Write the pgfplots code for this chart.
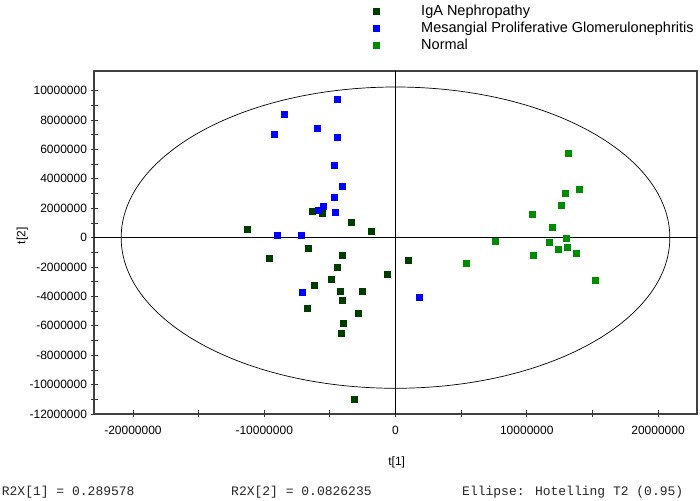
\documentclass[border=0pt]{standalone}
\usepackage{pgfplots}
\pgfplotsset{compat=1.18}
\usepackage{fontspec}
\setmainfont{Liberation Sans}
\newfontfamily\monofont{Liberation Mono}
\usetikzlibrary{calc}
\definecolor{igacol}{RGB}{0,60,0}
\definecolor{mpgncol}{RGB}{0,0,255}
\definecolor{normcol}{RGB}{0,140,0}
\definecolor{framecol}{RGB}{64,64,64}

\begin{document}
\begin{tikzpicture}[x=1bp,y=1bp]
\useasboundingbox (0,0) rectangle (700,501);
\begin{axis}[
  at={(94bp,87bp)}, anchor=south west,
  scale only axis, width=603bp, height=343bp,
  xmin=-22970000, xmax=22970000, ymin=-12000000, ymax=11340000,
  scaled ticks=false,
  xtick={-20000000,-10000000,0,10000000,20000000},
  ytick={-12000000,-10000000,-8000000,-6000000,-4000000,-2000000,0,2000000,4000000,6000000,8000000,10000000},
  minor x tick num=1, minor y tick num=1,
  tick pos=left, tick align=center,
  major tick length=7bp, minor tick length=7bp,
  every tick/.style={black!80, line width=0.8bp},
  axis line style={framecol, line width=1.3bp},
  ticklabel style={font=\fontsize{12bp}{14bp}\selectfont,
    /pgf/number format/fixed, /pgf/number format/1000 sep={},
    /pgf/number format/assume math mode=true},
  xticklabel style={yshift=-5bp},
  xlabel={t[1]}, ylabel={t[2]},
  label style={font=\fontsize{12bp}{14bp}\selectfont},
  xlabel style={at={(axis description cs:0.502,-0.14)}, anchor=center},
  ylabel style={at={(axis description cs:-0.119,0.519)}, anchor=center},
  legend style={at={(axis description cs:0.4627,1.1933)}, anchor=north west,
    draw=none, fill=none, inner sep=0pt, row sep=3.5bp,
    font=\fontsize{14.5bp}{16bp}\selectfont,
    nodes={inner sep=0pt, text height=10.5bp, text depth=3bp},
    /tikz/every odd column/.append style={column sep=42bp}},
  legend cell align=left,
  legend image code/.code={\draw[#1] plot coordinates {(0bp,0bp)};},
]
\draw[black, line width=0.8bp] (axis cs:0,-12000000) -- (axis cs:0,11340000);
\draw[black, line width=0.8bp] (axis cs:-22970000,0) -- (axis cs:22970000,0);
\draw[black, line width=0.7bp] let \p1=(axis cs:0,0), \p2=(axis cs:20900000,10250000) in
  (\p1) ellipse [x radius={\x2-\x1}, y radius={\y2-\y1}];

\addplot[only marks, mark=square*, mark size=3bp, color=igacol] coordinates {
(-11290000,560000) (-6360000,1790000) (-5600000,1650000) (-3340000,1020000)
(-1890000,430000) (-6640000,-750000) (-9660000,-1380000) (-4050000,-1200000)
(-4480000,-1990000) (-4910000,-2840000) (-6210000,-3220000) (-4230000,-3670000)
(-2500000,-3670000) (-4050000,-4290000) (-6720000,-4830000) (-2830000,-5150000)
(-3980000,-5850000) (-4150000,-6530000) (980000,-1520000) (-670000,-2520000)
(-3110000,-11000000)
};
\addlegendentry{IgA Nephropathy}
\addplot[only marks, mark=square*, mark size=3bp, color=mpgncol] coordinates {
(-4480000,9390000) (-8470000,8390000) (-9230000,7010000) (-5980000,7460000)
(-4480000,6820000) (-4660000,4900000) (-4050000,3520000) (-4660000,2740000)
(-5500000,2130000) (-5880000,1900000) (-4590000,1750000) (-9050000,200000)
(-7150000,140000) (-7100000,-3740000) (1810000,-4060000)
};
\addlegendentry{Mesangial Proliferative Glomerulonephritis}
\addplot[only marks, mark=square*, mark size=3bp, color=normcol] coordinates {
(13170000,5760000) (13960000,3290000) (12910000,2990000) (12660000,2220000)
(10400000,1590000) (11950000,730000) (12970000,-20000) (7630000,-270000)
(11700000,-340000) (13070000,-630000) (12400000,-820000) (13750000,-1040000)
(10480000,-1200000) (5370000,-1720000) (15220000,-2900000)
};
\addlegendentry{Normal}
\end{axis}
\begin{scope}[every node/.style={anchor=base west, inner sep=0pt, text=black!85,
    font=\monofont\fontsize{13bp}{15bp}\selectfont}]
\node at (1.7,5) {R2X[1] = 0.289578};
\node at (231,5) {R2X[2] = 0.0826235};
\node at (462,5) {Ellipse: Hotelling T2 (0.95)};
\end{scope}
\end{tikzpicture}
\end{document}
